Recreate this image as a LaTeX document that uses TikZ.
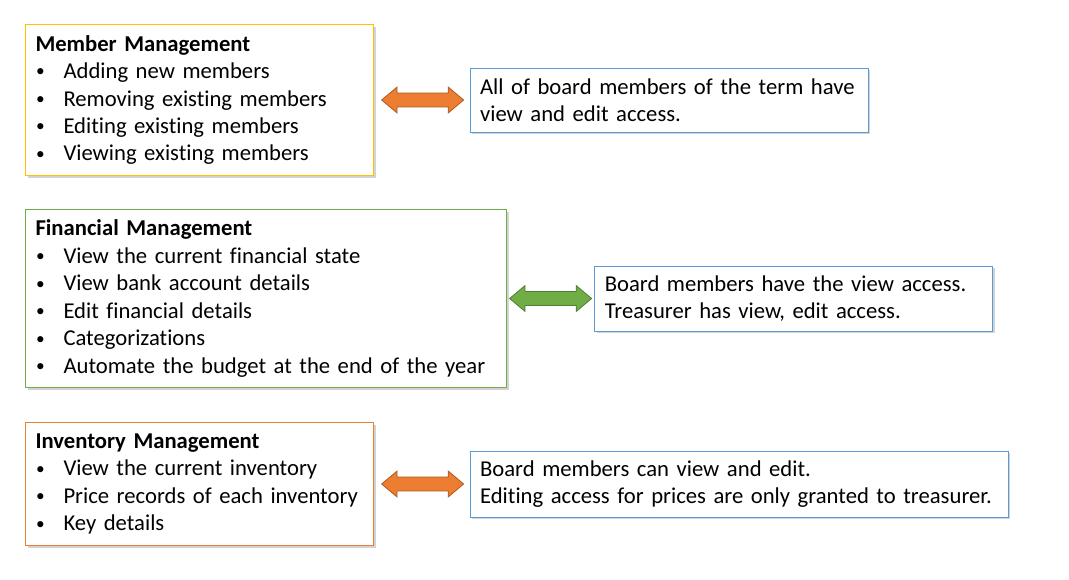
\documentclass[tikz,border=0pt]{standalone}
\usepackage{fontspec}
\setmainfont{Carlito}[Ligatures=NoCommon, WordSpace=0.8]
\usepackage{tikz}
\usetikzlibrary{positioning, shapes.arrows, shadows}
\definecolor{gold}{RGB}{255,192,0}
\definecolor{leaf}{RGB}{112,173,71}
\definecolor{leafdark}{RGB}{80,126,50}
\definecolor{carrot}{RGB}{237,125,49}
\definecolor{carrotdark}{RGB}{174,90,33}
\definecolor{sky}{RGB}{91,155,213}
\newcommand{\itm}[1]{\makebox[21pt][l]{\hspace{0.5pt}\raisebox{1.2pt}{\fontsize{13}{13}\selectfont\textbullet}}#1}

\begin{document}
\begin{tikzpicture}[every node/.style={font=\fontsize{17}{20.6}\selectfont},
          mod/.style={draw, fill=white, line width=0.75pt, align=left, inner xsep=7.5pt,
                      inner ysep=0pt, anchor=north west,
                      drop shadow={opacity=0.35, shadow xshift=1.5pt, shadow yshift=-1.5pt}},
          acc/.style={mod, draw=sky, anchor=west},
          dbl/.style={double arrow, double arrow head extend=4.5pt, double arrow tip angle=80,
                      minimum height=61.5pt, inner xsep=0pt, inner ysep=4.9pt,
                      line width=0.6pt, anchor=west}]
        \useasboundingbox (0,0) rectangle (801.75pt,-434.25pt);
        \node[mod, draw=gold, text width=246pt, minimum height=113.25pt] (mm) at (18.75pt,-18pt)
             {\textbf{Member Management}\\ \itm{Adding new members}\\ \itm{Removing existing members}\\
              \itm{Editing existing members}\\ \itm{Viewing existing members}};
        \node[mod, draw=leaf, text width=345.75pt, minimum height=133.5pt,
              below right=24.75pt and 0pt of mm.south west] (fm)
             {\textbf{Financial Management}\\ \itm{View the current financial state}\\
              \itm{View bank account details}\\ \itm{Edit financial details}\\
              \itm{Categorizations}\\ \itm{Automate the budget at the end of the year}};
        \node[mod, draw=carrot, text width=246pt, minimum height=92.25pt,
              below right=25.5pt and 0pt of fm.south west] (im)
             {\textbf{Inventory Management}\\ \itm{View the current inventory}\\
              \itm{Price records of each inventory}\\ \itm{Key details}};
        % arrows between module and access
        \node[dbl, fill=carrot, draw=carrotdark, right=5.25pt of mm.east] (mmar) {};
        \node[dbl, fill=leaf, draw=leafdark, right=1.5pt of fm.east] (fmar) {};
        \node[dbl, fill=carrot, draw=carrotdark, right=5.25pt of im.east] (imar) {};
        \node[acc, text width=283.5pt, minimum height=48pt, right=4pt of mmar.east] (mmacc)
             {All of board members of the term have\\ view and edit access.};
        \node[acc, text width=283.5pt, minimum height=48.75pt, right=1.5pt of fmar.east] (fmacc)
             {Board members have the view access.\\ Treasurer has view, edit access.};
        \node[acc, text width=388.5pt, minimum height=49.5pt, right=4pt of imar.east] (imacc)
             {Board members can view and edit.\\ Editing access for prices are only granted to treasurer.};
      \end{tikzpicture}
\end{document}
